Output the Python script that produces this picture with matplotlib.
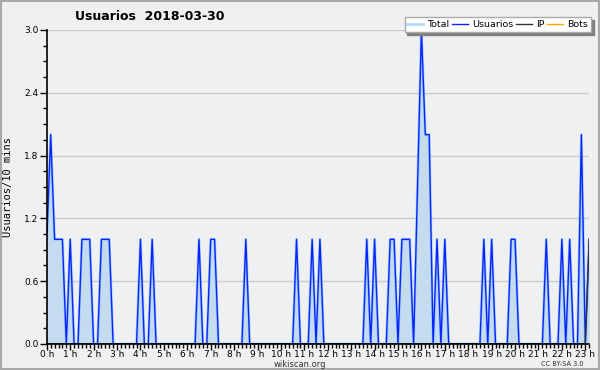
import numpy as np
import matplotlib
matplotlib.use("Agg")
import matplotlib.pyplot as plt
from matplotlib.patches import Rectangle

# usuarios por tramo de 10 min, 0h00 .. 23h10
usuarios = [1, 2, 1, 1, 1, 0, 1, 0, 0, 1, 1, 1, 0, 0, 1, 1, 1, 0, 0, 0,
            0, 0, 0, 0, 1, 0, 0, 1, 0, 0, 0, 0, 0, 0, 0, 0, 0, 0, 0, 1,
            0, 0, 1, 1, 0, 0, 0, 0, 0, 0, 0, 1, 0, 0, 0, 0, 0, 0, 0, 0,
            0, 0, 0, 0, 1, 0, 0, 0, 1, 0, 1, 0, 0, 0, 0, 0, 0, 0, 0, 0,
            0, 0, 1, 0, 1, 0, 0, 0, 1, 1, 0, 1, 1, 1, 0, 1.5, 3, 2, 2, 0,
            1, 0, 1, 0, 0, 0, 0, 0, 0, 0, 0, 0, 1, 0, 1, 0, 0, 0, 0, 1,
            1, 0, 0, 0, 0, 0, 0, 0, 1, 0, 0, 0, 1, 0, 1, 0, 0, 2, 0, 1]
total = usuarios
ip = [0] * 138 + [0, 1]
horas = ["%d h" % h for h in range(24)]

x = np.arange(len(usuarios))

fig = plt.figure(figsize=(6, 3.7), dpi=100)
fig.patch.set_facecolor('#f0f0f0')
fig.patches.append(Rectangle((0.001, 0.002), 0.997, 0.995, transform=fig.transFigure,
                             fill=False, edgecolor='#a8a8a8', linewidth=1.5))

ax = fig.add_axes([0.078, 0.0703, 0.904, 0.8487])
ax.set_facecolor('#eff0f2')

ax.fill_between(x, 0, total, color='#c5dcf0', linewidth=0)
ax.plot(x, total, color='#66b3ff', linewidth=2.0, alpha=0.5, label='Total')
ax.plot(x, usuarios, color='#0a24ff', linewidth=1.0, label='Usuarios')
ax.plot(x, ip, color='#333333', linewidth=1.0, label='IP')
ax.plot([], [], color='#ffa500', linewidth=1.0, label='Bots')

ax.set_xlim(0, len(usuarios) - 1)
ax.set_ylim(0, 3.0)
ax.set_yticks(np.arange(0, 3.01, 0.6))
ax.set_yticklabels(["%.1f" % v for v in np.arange(0, 3.01, 0.6)])
ax.set_yticks(np.arange(0, 3.01, 0.15), minor=True)
ax.set_xticks(np.arange(0, 139, 6))
ax.set_xticklabels(horas)
ax.set_xticks(np.arange(0, 140, 1), minor=True)
ax.grid(axis='y', color='#cccccc', linewidth=1)
ax.set_axisbelow(True)

for s in ['top', 'right']:
    ax.spines[s].set_visible(False)
for s in ['left', 'bottom']:
    ax.spines[s].set_linewidth(1.2)
    ax.spines[s].set_zorder(5)

ax.tick_params(axis='both', which='major', labelsize=6.5, length=5, width=1, pad=1)
ax.tick_params(axis='both', which='minor', length=3, width=1)
ax.tick_params(axis='x', which='major', length=4, pad=0.5)

ax.set_ylabel('Usuarios/10 mins', fontsize=7.5, family='DejaVu Sans Mono', labelpad=8)

fig.text(0.25, 0.955, 'Usuarios  2018-03-30', fontsize=9, fontweight='bold', ha='center', va='center')
fig.text(0.5, 0.015, 'wikiscan.org', fontsize=6, ha='center', va='center', color='#333333')
fig.text(0.972, 0.015, 'CC BY-SA 3.0', fontsize=4.8, ha='right', va='center', color='#333333')

leg = ax.legend(loc='upper right', ncol=4, fontsize=6.8, bbox_to_anchor=(1.003, 1.04),
                frameon=True, fancybox=False, shadow={'color': '#808080', 'alpha': 1},
                handlelength=1.7, handletextpad=0.4, columnspacing=0.3,
                borderpad=0.3, borderaxespad=0)
leg.get_frame().set_edgecolor('#aaaaaa')
leg.get_frame().set_facecolor('white')
leg.set_zorder(10)

fig.savefig('out.png', dpi=100, facecolor=fig.get_facecolor())
